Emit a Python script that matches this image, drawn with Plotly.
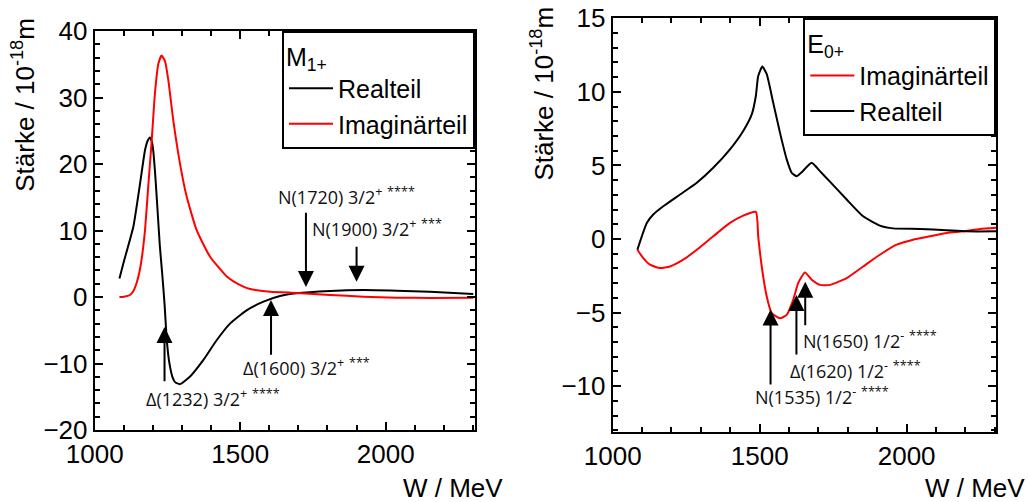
import plotly.graph_objects as go

# ---------------- data: M1+ (left panel) ----------------
m1_re_w = [1085, 1100, 1133, 1156, 1173, 1182, 1190, 1196, 1201, 1207, 1213, 1224, 1232, 1240,
           1247, 1253, 1259, 1267, 1276, 1293, 1327, 1373, 1419, 1465, 1522, 1580, 1637,
           1694, 1809, 1923, 2038, 2152, 2301]
m1_re_v = [2.8, 5.3, 10.6, 17.1, 22.1, 23.5, 24.0, 23.4, 22.1, 19.0, 15.1, 7.6, 3.5, -1.0,
           -6.0, -8.8, -10.5, -12.0, -12.8, -13.1, -12.0, -9.5, -6.5, -4.0, -2.0, -0.7, 0.15,
           0.55, 0.9, 1.05, 0.95, 0.8, 0.45]

m1_im_w = [1085, 1100, 1121, 1133, 1144, 1153, 1161, 1167, 1173, 1184, 1196, 1207, 1219, 1230,
           1242, 1253, 1270, 1293, 1316, 1350, 1396, 1454, 1500, 1534, 1603, 1694, 1809,
           1923, 2038, 2152, 2301]
m1_im_v = [0.0, 0.05, 0.3, 0.9, 2.1, 3.6, 5.6, 7.6, 10.1, 16.6, 23.6, 30.6, 35.1, 36.3,
           35.4, 32.6, 26.6, 20.1, 15.1, 10.1, 6.1, 3.1, 1.8, 1.2, 0.8, 0.6, 0.3,
           0.05, -0.1, -0.15, -0.1]

# ---------------- data: E0+ (right panel) ----------------
e0_re_w = [1084, 1099, 1116, 1138, 1172, 1229, 1286, 1342, 1399, 1444, 1473, 1487, 1495, 1509,
           1524, 1546, 1569, 1592, 1609, 1626, 1643, 1677, 1705, 1739, 1796, 1852, 1909,
           1954, 2045, 2136, 2204, 2306]
e0_re_v = [-0.73, 0.18, 1.09, 1.66, 2.22, 3.02, 3.82, 4.84, 6.09, 7.34, 8.47, 9.72, 11.08, 11.72,
           11.2, 9.27, 7.23, 5.41, 4.5, 4.27, 4.54, 5.18, 4.61, 3.9, 2.68, 1.54, 0.91,
           0.72, 0.68, 0.59, 0.52, 0.52]

e0_im_w = [1084, 1104, 1127, 1161, 1195, 1240, 1286, 1342, 1399, 1444, 1487, 1495, 1507, 1524,
           1541, 1569, 1592, 1614, 1631, 1654, 1677, 1705, 1739, 1796, 1852, 1909, 1966,
           2022, 2079, 2136, 2192, 2249, 2306]
e0_im_v = [-0.73, -1.3, -1.75, -1.98, -1.87, -1.41, -0.73, 0.18, 1.09, 1.59, 1.84, 0.18, -1.87, -3.91,
           -5.04, -5.39, -5.16, -4.14, -3.0, -2.28, -2.77, -3.12, -3.12, -2.66, -1.87, -1.07, -0.39,
           -0.05, 0.18, 0.41, 0.52, 0.68, 0.77]

# ---------------- resonance labels ----------------
m1_res_labels = ["N(1720) 3/2<sup>+</sup> <sup>****</sup>", "N(1900) 3/2<sup>+</sup> <sup>***</sup>",
                 "Δ(1600) 3/2<sup>+</sup> <sup>***</sup>", "Δ(1232) 3/2<sup>+</sup> <sup>****</sup>"]
m1_res_w = [1726, 1900, 1606, 1240]          # arrow position
m1_res_tip = [1.5, 2.3, -0.45, -4.5]
m1_res_tail = [12.9, 7.8, -8.9, -12.9]
m1_lab_w = [1623, 1740, 1503, 1170]
m1_lab_v = [15.2, 10.45, -10.5, -15.2]

e0_res_labels = ["N(1650) 1/2<sup>-</sup> <sup>****</sup>", "Δ(1620) 1/2<sup>-</sup> <sup>****</sup>",
                 "N(1535) 1/2<sup>-</sup> <sup>****</sup>"]
e0_res_w = [1655, 1625, 1537]
e0_res_tip = [-2.9, -3.8, -4.8]
e0_res_tail = [-5.96, -7.95, -10.0]
e0_lab_w = [1640, 1595, 1478]
e0_lab_v = [-6.86, -8.9, -10.7]

FONT = "Liberation Sans, Arial, sans-serif"
AFONT = "Open Sans, sans-serif"
W, H = 1028, 502

fig = go.Figure()
ln = dict(width=2, shape="spline", smoothing=0.5)
fig.add_trace(go.Scatter(x=m1_re_w, y=m1_re_v, mode="lines", name="Realteil",
                         line=dict(color="black", **ln), xaxis="x", yaxis="y", legend="legend"))
fig.add_trace(go.Scatter(x=m1_im_w, y=m1_im_v, mode="lines", name="Imaginärteil",
                         line=dict(color="red", **ln), xaxis="x", yaxis="y", legend="legend"))
fig.add_trace(go.Scatter(x=e0_im_w, y=e0_im_v, mode="lines", name="Imaginärteil",
                         line=dict(color="red", **ln), xaxis="x2", yaxis="y2", legend="legend2"))
fig.add_trace(go.Scatter(x=e0_re_w, y=e0_re_v, mode="lines", name="Realteil",
                         line=dict(color="black", **ln), xaxis="x2", yaxis="y2", legend="legend2"))

ax_common = dict(showline=True, linecolor="black", linewidth=2, mirror="allticks",
                 ticks="inside", ticklen=8, tickwidth=2, tickcolor="black",
                 showgrid=False, zeroline=False, automargin=False,
                 tickfont=dict(family=FONT, size=26, color="black"))

L = (94.7, 475.0, 31.0, 430.0)
R = (612.7, 996.3, 18.3, 431.7)

def dom(p):
    return [p[0] / W, p[1] / W], [1 - p[3] / H, 1 - p[2] / H]

lx, ly = dom(L)
rx, ry = dom(R)

mnr = dict(ticks="inside", ticklen=5, tickwidth=1.5, tickcolor="black")
leg_common = dict(bordercolor="black", borderwidth=2, bgcolor="white",
                  font=dict(family=FONT, size=25, color="black"),
                  itemwidth=44, tracegroupgap=0)
fig.update_layout(
    width=W, height=H, margin=dict(l=0, r=0, t=0, b=0, autoexpand=False),
    paper_bgcolor="white", plot_bgcolor="white",
    xaxis=dict(domain=lx, range=[1000, 2307], dtick=500, tick0=1000, anchor="y",
               minor=dict(dtick=100, **mnr), **ax_common),
    yaxis=dict(domain=ly, range=[-20, 40], dtick=10, anchor="x",
               minor=dict(dtick=2, **mnr), **ax_common),
    xaxis2=dict(domain=rx, range=[1000, 2305], dtick=500, tick0=1000, anchor="y2",
                minor=dict(dtick=100, **mnr), **ax_common),
    yaxis2=dict(domain=ry, range=[-13.1, 15], dtick=5, anchor="x2",
                minor=dict(dtick=1, **mnr), **ax_common),
    legend=dict(x=L[1] / W, xanchor="right", y=1 - L[2] / H, yanchor="top",
                title=dict(text="M<sub>1+</sub>", font=dict(family=FONT, size=25, color="black")),
                **leg_common),
    legend2=dict(x=R[1] / W, xanchor="right", y=1 - R[2] / H, yanchor="top",
                 title=dict(text="E<sub>0+</sub>", font=dict(family=FONT, size=25, color="black")),
                 **leg_common),
    showlegend=True,
)

ann = []
# axis titles
ytitle = "Stärke / 10<sup>-18</sup>m"
ann.append(dict(text=ytitle, xref="paper", yref="paper", x=23.3 / W, y=1 - 104.5 / H,
                textangle=-90, showarrow=False, xanchor="center", yanchor="middle",
                font=dict(family=FONT, size=26, color="black")))
ann.append(dict(text=ytitle, xref="paper", yref="paper", x=542.3 / W, y=1 - 93.3 / H,
                textangle=-90, showarrow=False, xanchor="center", yanchor="middle",
                font=dict(family=FONT, size=26, color="black")))
for cx in (452.5, 975.0):
    ann.append(dict(text="W / MeV", xref="paper", yref="paper", x=cx / W, y=1 - 488 / H,
                    showarrow=False, xanchor="center", yanchor="middle",
                    font=dict(family=FONT, size=26, color="black")))

def add_res(labels, ws, tips, tails, lw, lv, xr, yr):
    for t, w, tip, tail, tx, ty in zip(labels, ws, tips, tails, lw, lv):
        ann.append(dict(text="", x=w, y=tip, ax=w, ay=tail, xref=xr, yref=yr, axref=xr, ayref=yr,
                        showarrow=True, arrowhead=2, arrowsize=1.6, arrowwidth=2,
                        arrowcolor="black"))
        ann.append(dict(text=t, x=tx, y=ty, xref=xr, yref=yr, showarrow=False,
                        xanchor="left", yanchor="middle",
                        font=dict(family=AFONT, size=18, color="#111111")))

add_res(m1_res_labels, m1_res_w, m1_res_tip, m1_res_tail, m1_lab_w, m1_lab_v, "x", "y")
add_res(e0_res_labels, e0_res_w, e0_res_tip, e0_res_tail, e0_lab_w, e0_lab_v, "x2", "y2")

fig.update_layout(annotations=ann)
fig.write_html("out.html")
